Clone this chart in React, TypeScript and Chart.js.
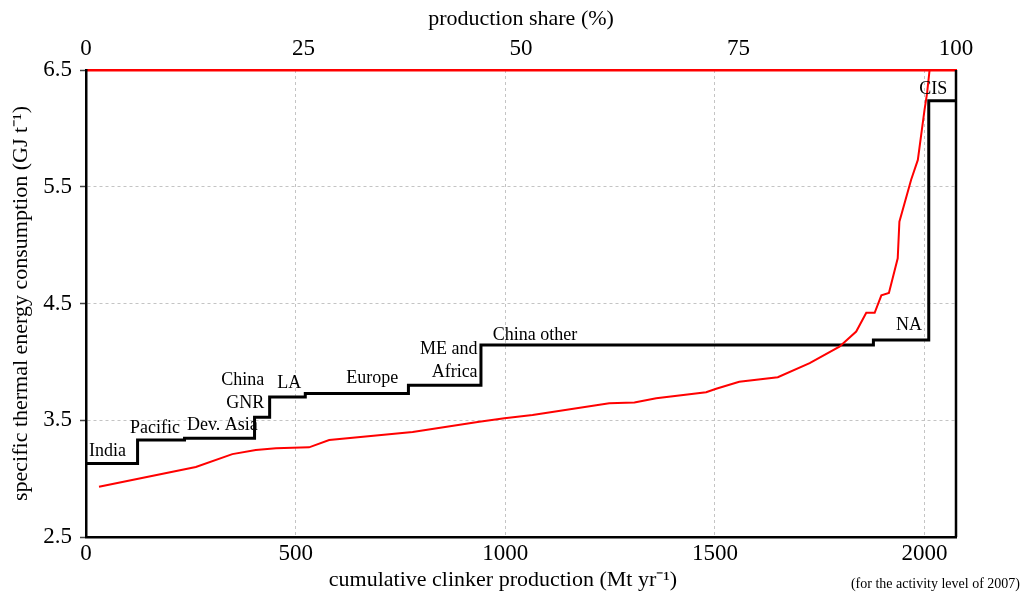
import React, { useEffect, useRef } from "react";
import { Chart, registerables } from "chart.js";

Chart.register(...registerables);

// Regional step curve (cumulative clinker production, Mt/yr -> GJ/t)
const regionStarts = [0, 123, 235, 402, 438, 523, 769, 942, 1878, 2010, 2075];
const regionEnergy = [3.13, 3.33, 3.345, 3.525, 3.7, 3.73, 3.8, 4.145, 4.187, 6.237, 6.237];

// Plant-level cost curve (red)
const plantCumulative = [31, 262, 349, 405, 453, 532, 580, 779, 938, 998, 1065, 1248, 1308, 1360, 1479, 1503, 1558, 1650, 1726, 1797, 1837, 1861, 1881, 1897, 1915, 1936, 1940, 1968, 1984, 2000, 2006, 2012];
const plantEnergy = [2.93, 3.1, 3.21, 3.245, 3.26, 3.268, 3.33, 3.4, 3.487, 3.517, 3.545, 3.645, 3.653, 3.688, 3.74, 3.77, 3.83, 3.868, 3.99, 4.13, 4.26, 4.42, 4.42, 4.57, 4.59, 4.887, 5.2, 5.56, 5.73, 6.16, 6.3, 6.5];

// Region labels (anchor in data units)
const labelTexts = ["India", "Pacific", "Dev. Asia", "China", "GNR", "LA", "Europe", "ME and", "Africa", "China other", "NA", "CIS"];
const labelX = [7, 105, 241, 425, 425, 456, 621, 934, 934, 970, 1994, 2054];
const labelY = [3.237, 3.434, 3.459, 3.845, 3.648, 3.819, 3.862, 4.11, 3.913, 4.23, 4.316, 6.337];
const labelAlign = ["left", "left", "left", "right", "right", "left", "left", "right", "right", "left", "right", "right"];

const xMin = 0;
const xMax = 2075;
const xTickValues = [0, 500, 1000, 1500, 2000];
const yMin = 2.5;
const yMax = 6.5;
const yTickValues = [2.5, 3.5, 4.5, 5.5, 6.5];
const shareMin = 0;
const shareMax = 100;
const shareTickValues = [0, 25, 50, 75, 100];

const xTitle = "cumulative clinker production (Mt yr\u207B\u00B9)";
const yTitle = "specific thermal energy consumption (GJ t\u207B\u00B9)";
const topTitle = "production share (%)";
const note = "(for the activity level of 2007)";

const FONT = "'Liberation Serif', 'Times New Roman', Times, serif";

const overlayPlugin = {
  id: "overlay",
  afterDatasetsDraw(chart: any) {
    const { ctx, chartArea, scales } = chart;
    const xs = scales.x;
    const ys = scales.y;
    ctx.save();
    // right frame
    ctx.strokeStyle = "#000";
    ctx.lineWidth = 2.5;
    ctx.beginPath();
    ctx.moveTo(chartArea.right, chartArea.top);
    ctx.lineTo(chartArea.right, chartArea.bottom);
    ctx.stroke();
    // region labels
    ctx.fillStyle = "#000";
    ctx.font = `18px ${FONT}`;
    ctx.textBaseline = "middle";
    labelTexts.forEach((t, i) => {
      ctx.textAlign = labelAlign[i];
      ctx.fillText(t, xs.getPixelForValue(labelX[i]), ys.getPixelForValue(labelY[i]));
    });
    // bottom title
    ctx.font = `22px ${FONT}`;
    ctx.textAlign = "center";
    ctx.fillText(xTitle, 503, 580);
    // note
    ctx.font = `14px ${FONT}`;
    ctx.textAlign = "right";
    ctx.fillText(note, 1020, 584);
    ctx.restore();
  },
};

export default function App() {
  const ref = useRef<HTMLCanvasElement | null>(null);
  useEffect(() => {
    if (!ref.current) return;
    const stepData = regionStarts.map((x, i) => ({ x, y: regionEnergy[i] }));
    const plantData = plantCumulative.map((x, i) => ({ x, y: plantEnergy[i] }));
    const chart = new Chart(ref.current, {
      type: "line",
      data: {
        datasets: [
          {
            label: "plants",
            data: plantData,
            borderColor: "#ff0000",
            borderWidth: 2,
            pointRadius: 0,
            tension: 0,
            xAxisID: "x",
            yAxisID: "y",
          },
          {
            label: "regions",
            data: stepData,
            borderColor: "#000000",
            borderWidth: 3,
            pointRadius: 0,
            stepped: "before",
            xAxisID: "x",
            yAxisID: "y",
          },
        ],
      },
      options: {
        animation: false,
        responsive: false,
        layout: { padding: { left: 0, right: 66, top: 0, bottom: 0 } },
        plugins: { legend: { display: false }, tooltip: { enabled: false } },
        scales: {
          x: {
            type: "linear",
            position: "bottom",
            min: xMin,
            max: xMax,
            afterFit: (s: any) => { s.height = 58; },
            afterBuildTicks: (s: any) => { s.ticks = xTickValues.map((v) => ({ value: v })); },
            ticks: {
              color: "#000",
              padding: 3,
              maxRotation: 0,
              autoSkip: false,
              font: { family: FONT, size: 23 },
              callback: (v: any) => String(v),
            },
            grid: { color: "#c4c4c4", lineWidth: 1, drawTicks: false },
            border: { display: true, color: "#000", width: 2.5, dash: [3, 3] },
          },
          x2: {
            type: "linear",
            position: "top",
            min: shareMin,
            max: shareMax,
            afterFit: (s: any) => { s.height = 70; },
            afterBuildTicks: (s: any) => { s.ticks = shareTickValues.map((v) => ({ value: v })); },
            ticks: {
              color: "#000",
              padding: 7,
              maxRotation: 0,
              autoSkip: false,
              font: { family: FONT, size: 23 },
              callback: (v: any) => String(v),
            },
            grid: { drawOnChartArea: false, drawTicks: false },
            border: { display: true, color: "#ff0000", width: 2.5 },
            title: {
              display: true,
              text: topTitle,
              color: "#000",
              font: { family: FONT, size: 22 },
              padding: { top: 6, bottom: 0 },
            },
          },
          y: {
            type: "linear",
            position: "left",
            min: yMin,
            max: yMax,
            afterFit: (s: any) => { s.width = 86; },
            afterBuildTicks: (s: any) => { s.ticks = yTickValues.map((v) => ({ value: v })); },
            ticks: {
              color: "#000",
              padding: 8,
              autoSkip: false,
              font: { family: FONT, size: 23 },
              callback: (v: any) => Number(v).toFixed(1),
            },
            grid: {
              color: "#c4c4c4",
              lineWidth: 1,
              tickLength: 6,
              tickColor: "#444",
              tickWidth: 1.5,
              tickBorderDash: [],
            },
            border: { display: true, color: "#000", width: 2.5, dash: [3, 3] },
            title: {
              display: true,
              text: yTitle,
              color: "#000",
              font: { family: FONT, size: 22 },
              padding: { top: 8, bottom: 0 },
            },
          },
        },
      },
      plugins: [overlayPlugin],
    } as any);
    return () => chart.destroy();
  }, []);
  return (
    <div style={{ position: "fixed", left: 0, top: 0, width: 1022, height: 595, background: "#fff" }}>
      <canvas ref={ref} width={1022} height={595} style={{ display: "block" }} />
    </div>
  );
}
